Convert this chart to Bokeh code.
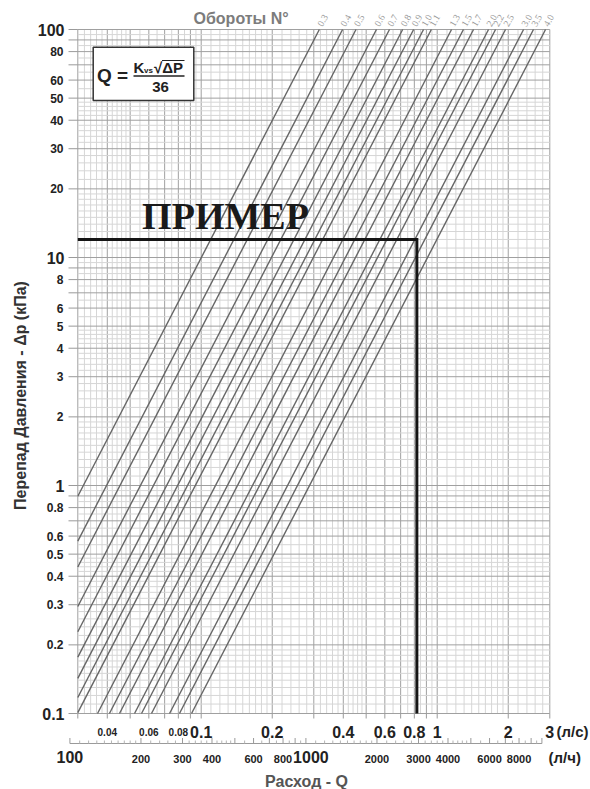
import math
from bokeh.plotting import figure
from bokeh.models import Range1d
from bokeh.core.properties import value
from bokeh.embed import file_html
from bokeh.resources import INLINE

# ---------------- data ----------------
turns = ["0.3", "0.4", "0.5", "0.6", "0.7", "0.8", "0.9", "1.0", "1.1",
         "1.3", "1.5", "1.7", "2.0", "2.2", "2.5", "3.0", "3.5", "4.0"]
kvs = [1.14, 1.43, 1.63, 1.99, 2.26, 2.57, 2.86, 3.15, 3.40,
       4.14, 4.65, 5.13, 5.94, 6.36, 7.01, 8.36, 9.21, 10.36]

dp_min, dp_max = 0.1, 100.0      # kPa
q_min, q_max = 0.03, 3.0         # l/s
lh_min, lh_max = 100, 10000      # l/h
LH_PER_LS = 3600.0

example_q = 0.82
example_dp = 12.0

y_small = [0.2, 0.3, 0.4, 0.5, 0.6, 0.8, 2, 3, 4, 5, 6, 8, 20, 30, 40, 50, 60, 80]
y_small_text = ["0.2", "0.3", "0.4", "0.5", "0.6", "0.8", "2", "3", "4", "5", "6", "8",
                "20", "30", "40", "50", "60", "80"]
y_big = [0.1, 1, 10, 100]
y_big_text = ["0.1", "1", "10", "100"]

x_big = [0.1, 0.2, 0.4, 0.6, 0.8, 1, 2, 3]
x_big_text = ["0.1", "0.2", "0.4", "0.6", "0.8", "1", "2", "3"]
x_small = [0.04, 0.06, 0.08]
x_small_text = ["0.04", "0.06", "0.08"]

lh_small = [200, 300, 400, 600, 800, 2000, 3000, 4000, 6000, 8000]
lh_small_text = ["200", "300", "400", "600", "800", "2000", "3000", "4000", "6000", "8000"]
lh_big = [100, 1000]
lh_big_text = ["100", "1000"]

major_mant = [1, 2, 3, 4, 5, 6, 7, 8, 9]
minor_mant = [1.1, 1.2, 1.3, 1.4, 1.5, 1.6, 1.7, 1.8, 1.9,
              2.2, 2.4, 2.6, 2.8, 3.2, 3.4, 3.6, 3.8, 4.2, 4.4, 4.6, 4.8,
              5.5, 6.5, 7.5, 8.5, 9.5]


def decade_ticks(mants, lo, hi):
    out = []
    for e in range(-3, 5):
        for m in mants:
            v = round(m * 10 ** e, 6)
            if lo - 1e-9 <= v <= hi + 1e-9:
                out.append(v)
    return sorted(set(out))


# ---------------- layout (screen pixels of the chart area) ----------------
W, H = 590, 789
X_Q1, X_DEC = 436.7, 236.0      # pixel of Q = 1 l/s, pixels per decade
Y_TOP, Y_DEC = 29.0, 228.0      # pixel of dP = 100 kPa, pixels per decade
LH_BIG_SHIFT = [0, 5]           # px nudge of the big l/h labels


def X(px):
    return 10 ** ((px - X_Q1) / X_DEC)


def Y(py):
    return 10 ** (2 - (py - Y_TOP) / Y_DEC)


SANS = value("Liberation Sans")
SERIF = value("Liberation Serif")
TXT = "#222222"
AX = "#9a9a9a"

p = figure(width=W, height=H, x_axis_type="log", y_axis_type="log",
           x_range=Range1d(X(0), X(W)), y_range=Range1d(Y(H), Y(0)),
           min_border=0, x_axis_location=None, y_axis_location=None,
           outline_line_color=None, toolbar_location=None, output_backend="svg",
           background_fill_color="white", border_fill_color="white")
p.grid.visible = False

# ---------------- grid ----------------
gx_min = decade_ticks(minor_mant, q_min, q_max)
gy_min = decade_ticks(minor_mant, dp_min, dp_max)
gx_maj = decade_ticks(major_mant, q_min, q_max)
gy_maj = decade_ticks(major_mant, dp_min, dp_max)
for xs, col in ((gx_min, "#d6d6d6"), (gx_maj, "#a0a0a0")):
    p.segment(x0=xs, y0=[dp_min] * len(xs), x1=xs, y1=[dp_max] * len(xs),
              line_color=col, line_width=1)
for ys, col in ((gy_min, "#d6d6d6"), (gy_maj, "#a0a0a0")):
    p.segment(x0=[q_min] * len(ys), y0=ys, x1=[q_max] * len(ys), y1=ys,
              line_color=col, line_width=1)

# ---------------- Kvs lines: dP = (36 Q / Kvs)^2 ----------------
q_lo = [k * math.sqrt(dp_min) / 36.0 for k in kvs]
q_hi = [k * math.sqrt(dp_max) / 36.0 for k in kvs]
x_start = [max(q, q_min) for q in q_lo]
y_start = [(36.0 * x / k) ** 2 for x, k in zip(x_start, kvs)]
p.segment(x0=x_start, y0=y_start, x1=q_hi, y1=[dp_max] * len(kvs),
          line_color="#666666", line_width=1.4)

# ---------------- example ----------------
p.line(x=[q_min, example_q, example_q], y=[example_dp, example_dp, dp_min],
       line_color="#151515", line_width=3, line_join="miter")
p.text(x=[X(225)], y=[Y(215.5)], text=["ПРИМЕР"], text_font=SERIF,
       text_font_style="bold", text_font_size="38px", text_align="center",
       text_baseline="middle", text_color="#1a1a1a")

# ---------------- formula box ----------------
p.quad(left=[X(92.7)], right=[X(193.3)], top=[Y(46.7)], bottom=[Y(100)],
       fill_color="white", line_color="#333333", line_width=1.5)
p.text(x=[X(96.5)], y=[Y(75)], text=["Q ="], text_font=SANS, text_font_style="bold",
       text_font_size="19px", text_align="left", text_baseline="middle", text_color=TXT)
p.text(x=[X(133)], y=[Y(67)], text=["K"], text_font=SANS, text_font_style="bold",
       text_font_size="15px", text_align="left", text_baseline="middle", text_color=TXT)
p.text(x=[X(143.5)], y=[Y(69.5)], text=["vs"], text_font=SANS, text_font_style="bold",
       text_font_size="8px", text_align="left", text_baseline="middle", text_color=TXT)
p.text(x=[X(153.5)], y=[Y(67)], text=["√ΔP"], text_font=SANS, text_font_style="bold",
       text_font_size="15px", text_align="left", text_baseline="middle", text_color=TXT)
p.segment(x0=[X(161.5)], y0=[Y(60)], x1=[X(184)], y1=[Y(60)], line_color=TXT, line_width=1.2)
p.segment(x0=[X(133)], y0=[Y(75.5)], x1=[X(184)], y1=[Y(75.5)], line_color=TXT, line_width=1.5)
p.text(x=[X(160)], y=[Y(86.5)], text=["36"], text_font=SANS, text_font_style="bold",
       text_font_size="15px", text_align="center", text_baseline="middle", text_color=TXT)

# ---------------- top: turn labels and title ----------------
p.text(x=q_hi, y=[Y(25)] * len(q_hi), text=turns,
       angle=1.05, text_align="left", text_baseline="middle", text_font=SERIF,
       text_font_size="9.5px", text_color="#999999")
p.text(x=[X(193)], y=[Y(17.5)], text=["Обороты N°"], text_font=SANS, text_font_style="bold",
       text_font_size="16px", text_color="#7c7c7c", text_align="left", text_baseline="middle")

# ---------------- y axis ----------------
y_ticks = decade_ticks(major_mant, dp_min, dp_max)
p.segment(x0=[X(68)] * len(y_ticks), y0=y_ticks, x1=[q_min] * len(y_ticks), y1=y_ticks,
          line_color=AX, line_width=1)
p.text(x=[X(63)] * len(y_small), y=y_small, text=y_small_text, text_font=SANS,
       text_font_style="bold", text_font_size="12px", text_color=TXT,
       text_align="right", text_baseline="middle")
p.text(x=[X(64)] * len(y_big), y=y_big, text=y_big_text, text_font=SANS,
       text_font_style="bold", text_font_size="16px", text_color=TXT,
       text_align="right", text_baseline="middle")
p.text(x=[X(20)], y=[Y(395)], text=["Перепад Давления - Δp (кПа)"], angle=math.pi / 2,
       text_font=SANS, text_font_style="bold", text_font_size="16px", text_color="#333333",
       text_align="center", text_baseline="middle")

# ---------------- x axis (l/s) ----------------
x_ticks = decade_ticks(major_mant, q_min, q_max)
p.segment(x0=x_ticks, y0=[dp_min] * len(x_ticks), x1=x_ticks, y1=[Y(718)] * len(x_ticks),
          line_color=AX, line_width=1)
p.text(x=x_big, y=[Y(731)] * len(x_big), text=x_big_text, text_font=SANS,
       text_font_style="bold", text_font_size="16px", text_color=TXT,
       text_align="center", text_baseline="middle")
p.text(x=x_small, y=[Y(731.5)] * len(x_small), text=x_small_text, text_font=SANS,
       text_font_style="bold", text_font_size="10px", text_color=TXT,
       text_align="center", text_baseline="middle")
p.text(x=[X(556)], y=[Y(731)], text=["(л/с)"], text_font=SANS, text_font_style="bold",
       text_font_size="15px", text_color=TXT, text_align="left", text_baseline="middle")

# ---------------- x axis (l/h) ----------------
lh_maj = [v / LH_PER_LS for v in decade_ticks(major_mant, lh_min, lh_max)]
lh_min_t = [v / LH_PER_LS for v in decade_ticks(minor_mant, lh_min, lh_max)]
p.segment(x0=[lh_min / LH_PER_LS], y0=[Y(743)], x1=[lh_max / LH_PER_LS], y1=[Y(743)],
          line_color=AX, line_width=1)
p.segment(x0=lh_maj, y0=[Y(743)] * len(lh_maj), x1=lh_maj, y1=[Y(737.5)] * len(lh_maj),
          line_color=AX, line_width=1)
p.segment(x0=lh_min_t, y0=[Y(743)] * len(lh_min_t), x1=lh_min_t, y1=[Y(740)] * len(lh_min_t),
          line_color="#b4b4b4", line_width=1)
p.text(x=[v / LH_PER_LS for v in lh_small], y=[Y(758)] * len(lh_small), text=lh_small_text,
       text_font=SANS, text_font_style="bold", text_font_size="11px", text_color=TXT,
       text_align="center", text_baseline="middle")
p.text(x=[v / LH_PER_LS for v in lh_big], y=[Y(756.5)] * len(lh_big), text=lh_big_text,
       x_offset=LH_BIG_SHIFT, text_font=SANS, text_font_style="bold", text_font_size="16px",
       text_color=TXT, text_align="center", text_baseline="middle")
p.text(x=[X(548)], y=[Y(757)], text=["(л/ч)"], text_font=SANS, text_font_style="bold",
       text_font_size="15px", text_color=TXT, text_align="left", text_baseline="middle")
p.text(x=[X(306)], y=[Y(781)], text=["Расход - Q"], text_font=SANS, text_font_style="bold",
       text_font_size="16px", text_color="#555555", text_align="center", text_baseline="middle")

open("out.html", "w").write(file_html(p, INLINE))
